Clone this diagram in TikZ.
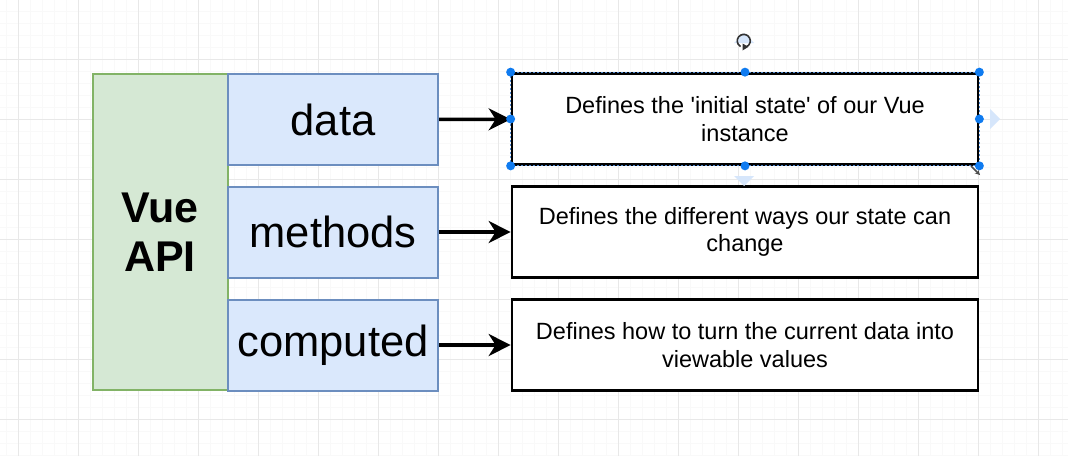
\documentclass[tikz,border=0pt]{standalone}
\usepackage{fontspec}
\setmainfont{Liberation Sans}
\usepackage{tikz}
\usetikzlibrary{arrows.meta}
\definecolor{apifill}{HTML}{D5E8D4}
\definecolor{apiline}{HTML}{82B366}
\definecolor{keyfill}{HTML}{DAE8FC}
\definecolor{keyline}{HTML}{6C8EBF}
\definecolor{handle}{HTML}{0F7BF0}
\definecolor{hint}{HTML}{D6E6FB}
\definecolor{gridmin}{HTML}{F9F9F9}
\definecolor{gridmaj}{HTML}{E8E8E8}
\tikzset{
  apibox/.style={draw=apiline,fill=apifill,line width=2pt,minimum width=135pt,minimum height=316pt,inner sep=0pt,align=center,font=\fontsize{43}{49}\selectfont\bfseries},
  keybox/.style={draw=keyline,fill=keyfill,line width=2pt,minimum width=210pt,minimum height=91pt,inner sep=0pt,font=\fontsize{43.5}{50}\selectfont},
  descbox/.style={draw=black,fill=white,line width=2.7pt,minimum width=466pt,minimum height=91pt,inner sep=0pt,align=center,font=\fontsize{23.5}{27.5}\selectfont},
  link/.style={-{Stealth[length=22pt,width=22pt,inset=7pt]},line width=3.5pt},
  grip/.style={circle,fill=handle,inner sep=0pt,minimum size=9pt}
}
\begin{document}
\begin{tikzpicture}[line cap=butt,line join=miter,x=1pt,y=-1pt]
  \useasboundingbox (0,0) rectangle (1068,456);
  \fill[white] (0,0) rectangle (1068,456);
  % grid
  \foreach \gx in {6,18,...,1068} \draw[gridmin,line width=0.8pt] (\gx,0) -- (\gx,456);
  \foreach \gy in {11,23,...,456} \draw[gridmin,line width=0.8pt] (0,\gy) -- (1068,\gy);
  \foreach \gx in {18,78,...,1068} \draw[gridmaj,line width=1pt] (\gx,0) -- (\gx,456);
  \foreach \gy in {59,119,...,456} \draw[gridmaj,line width=1pt] (0,\gy) -- (1068,\gy);

  \node[apibox] (api) at (160,232) {Vue\\API};
  \node[keybox] (data) at (333,119.5) {data};
  \node[keybox] (methods) at (333,232) {methods};
  \node[keybox] (computed) at (333,345) {computed};

  \node[descbox] (ddata) at (745,119) {Defines the \textquotesingle initial state\textquotesingle{} of our Vue\\instance};
  \node[descbox] (dmethods) at (745,232) {Defines the different ways our state can\\change};
  \node[descbox] (dcomputed) at (745,345) {Defines how to turn the current data into\\viewable values};

  \draw[link] (data) -- (ddata);
  \draw[link] (methods) -- (dmethods);
  \draw[link] (computed) -- (dcomputed);

  % selection of the first box
  \draw[keyline!70!handle,line width=1pt,dash pattern=on 2pt off 2pt] (ddata.north west) rectangle (ddata.south east);
  \foreach \a in {north west,north,north east,east,south east,south,south west,west}
    \node[grip] at (ddata.\a) {};
  \fill[hint] (734,43) -- (754,43) -- (744,33) -- cycle;
  \fill[hint] (734,176) -- (754,176) -- (744,186) -- cycle;
  \fill[hint] (990,109) -- (990,129) -- (1000,119) -- cycle;
  \draw[black!80,line width=1.6pt] (747,46.5) arc (60:-240:6.5);
  \fill[black!80] (742.5,43.5) -- (748.5,46.8) -- (742.5,50.5) -- cycle;
  \draw[black!70,line width=1.5pt,-{Stealth[length=5pt,width=5pt]}] (971,166) -- (980,175);
\end{tikzpicture}
\end{document}
